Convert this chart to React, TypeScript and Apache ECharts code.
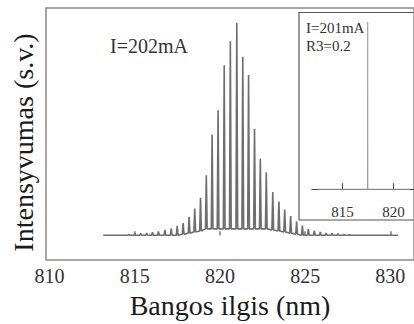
import { useEffect, useRef } from "react";
import * as echarts from "echarts";

// Main spectrum: longitudinal mode comb at I = 202 mA
const modeNm = [
  814.65, 815.0, 815.35, 815.7, 816.04, 816.39, 816.77, 817.14, 817.49, 817.84,
  818.19, 818.52, 818.86, 819.2, 819.54, 819.89, 820.25, 820.61, 820.99, 821.34,
  821.68, 822.03, 822.37, 822.72, 823.1, 823.46, 823.8, 824.15, 824.5, 824.84,
  825.19, 825.54, 825.89, 826.23, 826.58, 826.93, 827.28, 827.62,
];
const modePeak = [
  0.005, 0.007, 0.009, 0.011, 0.014, 0.018, 0.025, 0.032, 0.044, 0.057,
  0.087, 0.126, 0.176, 0.282, 0.474, 0.589, 0.801, 0.914, 1.0, 0.84,
  0.754, 0.502, 0.36, 0.296, 0.204, 0.159, 0.121, 0.091, 0.066, 0.045,
  0.03, 0.022, 0.016, 0.011, 0.009, 0.007, 0.005, 0.003,
];
const modeFloor = [
  0, 0, 0, 0, 0, 0, 0, 0, 0, 0.005,
  0.01, 0.015, 0.02, 0.03, 0.03, 0.03, 0.03, 0.03, 0.03, 0.03,
  0.03, 0.03, 0.03, 0.03, 0.025, 0.02, 0.015, 0.01, 0.005, 0,
  0, 0, 0, 0, 0, 0, 0, 0,
];
const spectrumRange = [813.15, 830.46];

// Inset spectrum: single mode at I = 201 mA, R3 = 0.2
const insetRange = [812.59, 821.6];
const insetModeNm = [817.46];
const insetModePeak = [1.0];

const mainLabelValues = [810, 815, 820, 825, 830];
const mainTickValues = [815, 820, 825, 830];
const insetTickValues = [815, 820];

const mainNote = "I=202mA";
const insetNotes = ["I=201mA", "R3=0.2"];
const xTitle = "Bangos ilgis (nm)";
const yTitle = "Intensyvumas (s.v.)";

const SERIF = "Liberation Serif";

function buildComb(
  start: number,
  end: number,
  nms: number[],
  peaks: number[],
  floors: number[],
  halfWidth: number
): number[][] {
  const pts: number[][] = [[start, 0]];
  nms.forEach((nm, i) => {
    const f = floors[i] ?? 0;
    pts.push([nm - halfWidth, f], [nm, peaks[i]], [nm + halfWidth, f]);
  });
  pts.push([end, 0]);
  return pts;
}

export default function App() {
  const ref = useRef<HTMLDivElement>(null);

  useEffect(() => {
    if (!ref.current) return;
    const chart = echarts.init(ref.current, undefined, { renderer: "svg" });

    const mainData = buildComb(
      spectrumRange[0],
      spectrumRange[1],
      modeNm,
      modePeak,
      modeFloor,
      0.05
    );
    const insetData = buildComb(
      insetRange[0],
      insetRange[1],
      insetModeNm,
      insetModePeak,
      insetModeNm.map(() => 0),
      0.01
    );

    chart.setOption({
      animation: false,
      backgroundColor: "#ffffff",
      grid: [
        {
          left: 46,
          top: 8,
          right: -5,
          bottom: 57,
          show: true,
          borderColor: "#8a8a8a",
          borderWidth: 1.5,
          backgroundColor: "transparent",
        },
        { left: 312, top: 22, right: 0, bottom: 123 },
      ],
      xAxis: [
        {
          type: "value",
          gridIndex: 0,
          min: 809.79,
          max: 831.39,
          axisLine: { show: false },
          axisTick: {
            show: true,
            inside: true,
            length: 4,
            customValues: mainTickValues,
            lineStyle: { color: "#777", width: 1.5 },
          },
          axisLabel: {
            customValues: mainLabelValues,
            fontFamily: SERIF,
            fontSize: 20,
            color: "#333",
            margin: 6,
          },
          splitLine: { show: false },
          name: xTitle,
          nameLocation: "middle",
          nameGap: 26,
          nameTextStyle: { fontFamily: SERIF, fontSize: 28, color: "#1a1a1a" },
        },
        {
          type: "value",
          gridIndex: 1,
          min: 812,
          max: 822,
          axisLine: { show: true, lineStyle: { color: "#444", width: 1.2 } },
          axisTick: {
            show: true,
            inside: true,
            length: 6,
            customValues: insetTickValues,
            lineStyle: { color: "#444", width: 1 },
          },
          axisLabel: {
            customValues: insetTickValues,
            fontFamily: SERIF,
            fontSize: 15,
            color: "#333",
            margin: 3,
          },
          splitLine: { show: false },
        },
      ],
      yAxis: [
        {
          type: "value",
          gridIndex: 0,
          min: -0.117,
          max: 1.07,
          axisLine: { show: false },
          axisTick: { show: false },
          axisLabel: { show: false },
          splitLine: { show: false },
        },
        {
          type: "value",
          gridIndex: 1,
          min: -0.07,
          max: 1,
          axisLine: { show: false },
          axisTick: { show: false },
          axisLabel: { show: false },
          splitLine: { show: false },
        },
      ],
      series: [
        {
          type: "line",
          xAxisIndex: 0,
          yAxisIndex: 0,
          data: mainData,
          showSymbol: false,
          lineStyle: { color: "#6e6e6e", width: 1.6 },
          z: 3,
        },
        {
          type: "line",
          xAxisIndex: 1,
          yAxisIndex: 1,
          data: insetData,
          showSymbol: false,
          lineStyle: { color: "#9a9a9a", width: 1.1 },
          z: 3,
        },
      ],
      graphic: [
        {
          type: "rect",
          z: -10,
          shape: { x: 299, y: 12.5, width: 130, height: 207.5 },
          style: { fill: "#ffffff", stroke: "#555", lineWidth: 1.2 },
        },
        {
          type: "text",
          x: 110,
          y: 46,
          style: {
            text: mainNote,
            font: `20px ${SERIF}`,
            fill: "#333",
            textAlign: "left",
            textVerticalAlign: "middle",
          },
        },
        {
          type: "text",
          x: 306,
          y: 27.5,
          style: {
            text: insetNotes[0],
            font: `15px ${SERIF}`,
            fill: "#333",
            textAlign: "left",
            textVerticalAlign: "middle",
          },
        },
        {
          type: "text",
          x: 306,
          y: 46,
          style: {
            text: insetNotes[1],
            font: `15px ${SERIF}`,
            fill: "#333",
            textAlign: "left",
            textVerticalAlign: "middle",
          },
        },
        {
          type: "text",
          x: 23.5,
          y: 142.5,
          rotation: Math.PI / 2,
          style: {
            text: yTitle,
            font: `28px ${SERIF}`,
            fill: "#1a1a1a",
            textAlign: "center",
            textVerticalAlign: "middle",
          },
        },
      ],
    });

    return () => chart.dispose();
  }, []);

  return <div ref={ref} style={{ width: 414, height: 324, position: "absolute", left: 0, top: 0 }} />;
}
